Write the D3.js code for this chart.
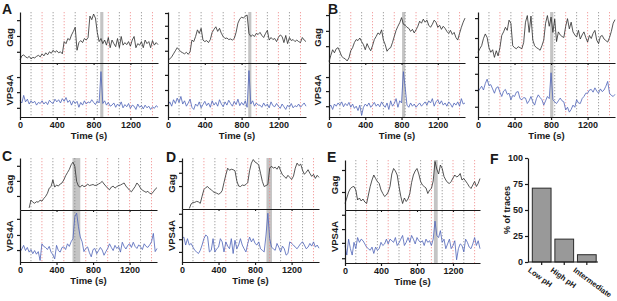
<!DOCTYPE html>
<html><head><meta charset="utf-8">
<script src="https://cdn.jsdelivr.net/npm/d3@7"></script>
<style>
body{margin:0;background:#fff}
svg text{font-family:"Liberation Sans",Arial,Helvetica,sans-serif;font-weight:bold;fill:#1a1a1a}
</style>
</head><body>
<svg id="chart" width="617" height="301"></svg>
<script>
// ---------- data ----------
const times = d3.range(0, 1501, 20);           // seconds, one sample every 20 s
const xTickValues = [0, 400, 800, 1200];
const switchTimes = [120, 240, 360, 480, 600, 720, 840, 960, 1080, 1200, 1320, 1440];

const gagA1 = [6,14,16,12,10,13,8,11,10,13, 15,12,18,14,20,16,22,19,25,21, 24,20,22,18,42,38,48,45,55,62, 70,25,40,44,40,48,45,50,92,85, 96,88,60,42,48,38,45,35,50,30, 45,38,32,48,30,52,35,40,36,42, 33,45,52,30,38,35,42,30,45,38, 42,30,44,35,40,36];
const vpsA1 = [30,26,40,28,33,24,30,26,29,22, 27,25,30,24,28,23,31,27,25,33, 28,32,26,34,29,36,27,31,22,30, 25,29,18,27,22,30,24,28,26,32, 27,23,30,26,84,25,30,22,27,20, 22,26,18,24,20,28,17,23,19,25, 16,22,20,14,24,18,21,15,22,17, 20,14,19,16,21,18];
const gagA2 = [5,8,12,18,24,30,26,22,20,18, 21,17,22,45,42,52,65,58,68,45, 42,44,40,46,60,66,71,62,68,58, 52,48,49,46,47,45,48,60,78,86, 90,88,92,94,58,52,55,52,58,56, 60,54,50,58,64,45,50,46,48,42, 50,55,52,40,54,38,50,44,46,42, 45,42,40,50,45,42];
const vpsA2 = [22,28,20,32,25,35,27,38,24,30, 20,26,33,18,14,24,20,28,17,23, 29,21,26,18,30,22,27,20,32,24, 19,28,22,31,25,20,29,23,33,21, 27,22,30,18,86,24,30,20,26,22, 22,18,26,20,24,17,28,21,19,25, 20,16,24,19,14,22,18,25,17,21, 19,24,18,22,26,20];
const gagB1 = [3,15,26,20,28,30,22,13,10,8, 4,10,24,30,40,46,44,49,42,36, 26,38,30,24,34,46,52,59,56,65, 45,36,23,28,30,40,52,64,72,79, 89,76,74,70,68,62,66,59,65,72, 82,78,86,80,84,74,70,76,84,80, 70,74,66,72,68,62,58,64,56,60, 50,45,58,70,80,88];
const vpsB1 = [18,22,14,24,20,26,22,28,19,25, 21,27,18,24,16,20,12,22,3,18, 24,20,26,18,22,27,20,24,19,28, 22,18,26,14,30,20,25,34,18,30, 26,84,55,22,18,26,20,24,18,22, 26,20,24,28,22,30,26,34,20,28, 32,24,30,22,26,20,28,24,18,26, 22,28,20,34,24,26];
const gagB2 = [21,28,34,48,57,50,30,21,26,11, 24,14,30,54,61,70,64,84,78,34, 30,28,32,30,28,40,80,93,60,92, 45,34,30,28,25,34,45,78,93,72, 90,60,86,42,61,55,52,50,72,87, 67,80,61,55,51,64,47,55,61,50, 41,54,48,58,64,45,38,52,54,47, 44,41,50,62,78,85];
const vpsB2 = [47,52,57,50,62,70,58,60,52,44, 54,56,46,38,48,51,42,44,32,40, 38,46,47,34,32,36,35,25,30,38, 28,22,34,41,36,32,22,30,38,34, 82,32,28,25,30,35,30,28,13,18, 9,14,22,18,32,26,25,34,38,44, 44,50,51,46,54,48,44,52,47,50, 57,66,44,40,38,42];
const gagC = [null,null,null,null,null,4,19,15,13,16, 15,19,17,22,26,32,42,45,58,44, 48,46,50,52,58,66,72,78,87,92, 84,55,46,44,48,45,46,50,47,48, 49,47,48,50,52,55,50,46,42,39, 44,46,42,45,47,48,50,52,46,42, 38,35,40,45,52,48,42,38,36,34, 36,32,31,35,40,43];
const vpsC = [19,25,32,22,28,19,24,16,22,15, 20,3,35,30,28,24,30,19,14,6, 32,22,19,28,29,24,35,30,39,45, 87,94,68,48,39,20,26,29,18,10, 24,26,16,22,28,23,13,20,26,35, 28,22,32,26,30,19,38,30,25,32, 35,28,38,30,26,33,29,24,35,30, 28,33,39,55,20,26];
const gagD = [null,null,null,null,1,10,13,13,15,14, 11,25,38,42,44,40,38,34,32,31, 29,31,36,52,67,80,76,78,77,75, 55,45,44,47,46,48,52,75,90,97, 92,90,86,70,54,44,46,48,80,84, 80,82,78,84,75,67,64,60,66,62, 58,64,80,90,85,88,76,68,72,77, 70,64,68,60,66,62];
const vpsD = [44,47,32,44,32,35,28,22,19,16, 22,32,44,51,48,19,22,44,19,25, 28,44,38,19,38,30,25,44,16,41, 25,32,44,32,25,19,35,47,38,44, 35,32,38,25,22,19,51,92,44,28, 25,22,35,28,19,30,25,13,16,38, 35,32,28,25,30,35,38,32,25,28, 35,30,38,28,32,26];
const gagE = [13,24,36,43,46,47,40,20,24,18, 22,16,13,30,47,60,70,63,57,53, 40,33,27,30,36,47,72,83,78,70, 47,27,13,24,17,22,33,55,70,78, 83,72,57,50,47,44,33,40,43,58, 97,82,72,90,83,67,60,55,53,57, 64,70,66,68,73,60,63,58,53,47, 43,50,57,47,53,63];
const vpsE = [33,15,45,27,15,39,27,48,39,45, 42,36,30,27,24,30,18,30,24,27, 39,33,36,45,36,45,42,39,48,33, 38,45,52,33,39,48,39,52,45,36, 48,42,39,42,33,45,39,42,33,45, 79,52,48,61,39,45,27,36,45,27, 33,42,6,27,36,33,21,45,39,30, 27,36,48,33,42,27];

// tick values (arbitrary intensity units, 0-100 of each strip)
const gagTicksA1 = [22,53,84],  vpsTicksA1 = [17,46,74];
const gagTicksA2 = [24,49,73,98], vpsTicksA2 = [22,50,78];
const gagTicksB1 = [33,63,94],  vpsTicksB1 = [20,48,74];
const gagTicksB2 = [12,49,88],  vpsTicksB2 = [19,50,80];
const gagTicksC  = [27,56,85],  vpsTicksC  = [23,52,83];
const gagTicksD  = [45,71,94],  vpsTicksD  = [19,43,66,91];
const gagTicksE  = [36,80],     vpsTicksE  = [9,38,64,91];

// panel F
const fCategories = ["Low pH", "High pH", "Intermediate"];
const fValues = [71, 22, 7];
const fTicks = [0, 25, 50, 75, 100];

// ---------- layout ----------
const panels = [
  {gag:gagA1, vps:vpsA1, gt:gagTicksA1, vt:vpsTicksA1, shade:[872,906], x0:20,  x1:158, top:12,  mid:63,  bot:117, lab:10},
  {gag:gagA2, vps:vpsA2, gt:gagTicksA2, vt:vpsTicksA2, shade:[872,906], x0:168, x1:306, top:12,  mid:63,  bot:117, lab:null},
  {gag:gagB1, vps:vpsB1, gt:gagTicksB1, vt:vpsTicksB1, shade:[806,840], x0:329, x1:465, top:12,  mid:63,  bot:117, lab:318},
  {gag:gagB2, vps:vpsB2, gt:gagTicksB2, vt:vpsTicksB2, shade:[790,825], x0:478, x1:615, top:12,  mid:63,  bot:117, lab:null},
  {gag:gagC,  vps:vpsC,  gt:gagTicksC,  vt:vpsTicksC,  shade:[575,660], x0:20,  x1:157, top:158, mid:210, bot:262, lab:10},
  {gag:gagD,  vps:vpsD,  gt:gagTicksD,  vt:vpsTicksD,  shade:[925,985], x0:182, x1:319, top:158, mid:209, bot:262, lab:172},
  {gag:gagE,  vps:vpsE,  gt:gagTicksE,  vt:vpsTicksE,  shade:[988,1030],x0:345, x1:480, top:160, mid:210, bot:263, lab:335}
];
const letters = [["A",2,14],["B",328,14],["C",2,161],["D",166,162],["E",327,162],["F",490,164]];

const svg = d3.select("#chart");
const AX = "#1a1a1a";

panels.forEach(p => {
  const g = svg.append("g");
  const x = d3.scaleLinear().domain([0,1500]).range([p.x0, p.x1]);
  const yG = d3.scaleLinear().domain([0,100]).range([p.mid, p.top]);
  const yV = d3.scaleLinear().domain([0,100]).range([p.bot, p.mid]);

  // shaded event
  g.append("rect").attr("x", x(p.shade[0])).attr("width", x(p.shade[1]) - x(p.shade[0]))
    .attr("y", p.top).attr("height", p.bot - p.top).attr("fill", "#c4c4c4");

  // pH switch lines
  g.selectAll("line.sw").data(switchTimes).join("line")
    .attr("x1", d => x(d)).attr("x2", d => x(d))
    .attr("y1", p.top).attr("y2", p.bot)
    .attr("stroke", (d,i) => i % 2 === 0 ? "#8a8a8a" : "#f08a8a")
    .attr("stroke-width", 0.8).attr("stroke-dasharray", "1.3,1.7");

  // traces
  const lineG = d3.line().defined(d => d != null).x((d,i) => x(times[i])).y(d => yG(d));
  const lineV = d3.line().defined(d => d != null).x((d,i) => x(times[i])).y(d => yV(d));
  g.append("path").datum(p.gag).attr("d", lineG).attr("fill","none").attr("stroke","#2b2b2b").attr("stroke-width",0.8).attr("stroke-linejoin","round");
  g.append("path").datum(p.vps).attr("d", lineV).attr("fill","none").attr("stroke","#4d62b8").attr("stroke-width",0.8).attr("stroke-linejoin","round");

  // y axes
  const ag = g.append("g").attr("transform",`translate(${p.x0},0)`)
    .call(d3.axisLeft(yG).tickValues(p.gt).tickSize(3).tickFormat("").tickSizeOuter(0));
  const av = g.append("g").attr("transform",`translate(${p.x0},0)`)
    .call(d3.axisLeft(yV).tickValues(p.vt).tickSize(3).tickFormat("").tickSizeOuter(0));
  [ag, av].forEach(a => { a.selectAll("path,line").attr("stroke", AX).attr("stroke-width", 1.2); });

  // middle separator with small ticks
  const am = g.append("g").attr("transform",`translate(0,${p.mid})`)
    .call(d3.axisBottom(x).tickValues(xTickValues.slice(1)).tickSize(2).tickFormat("").tickSizeOuter(0));
  am.selectAll("path,line").attr("stroke", AX).attr("stroke-width", 1.1);

  // bottom axis
  const ab = g.append("g").attr("transform",`translate(0,${p.bot})`)
    .call(d3.axisBottom(x).tickValues(xTickValues).tickFormat(d3.format("d")).tickSize(3).tickPadding(2).tickSizeOuter(0));
  ab.selectAll("path,line").attr("stroke", AX).attr("stroke-width", 1.2);
  ab.selectAll("text").attr("font-size", 9).attr("fill", AX);

  g.append("text").attr("x", (p.x0 + p.x1) / 2).attr("y", p.bot + 22)
    .attr("text-anchor","middle").attr("font-size", 9.5).text("Time (s)");

  if (p.lab != null) {
    g.append("text").attr("transform",`translate(${p.lab + 3},${(p.top + p.mid) / 2}) rotate(-90)`)
      .attr("text-anchor","middle").attr("font-size", 9.5).text("Gag");
    g.append("text").attr("transform",`translate(${p.lab + 3},${(p.mid + p.bot) / 2}) rotate(-90)`)
      .attr("text-anchor","middle").attr("font-size", 9.5).text("VPS4A");
  }
});

// panel letters
svg.selectAll("text.letter").data(letters).join("text")
  .attr("x", d => d[1]).attr("y", d => d[2]).attr("font-size", 14).text(d => d[0]);

// ---------- panel F ----------
const fx = d3.scaleBand().domain(fCategories).range([530.5, 598]).paddingInner(0.17).paddingOuter(0.08);
const fy = d3.scaleLinear().domain([0,100]).range([262, 158]);
const fg = svg.append("g");
fg.selectAll("rect").data(fValues).join("rect")
  .attr("x", (d,i) => fx(fCategories[i])).attr("width", fx.bandwidth())
  .attr("y", d => fy(d)).attr("height", d => fy(0) - fy(d))
  .attr("fill", "#999999").attr("stroke", "#2a2a2a").attr("stroke-width", 1);
const fyAxis = fg.append("g").attr("transform","translate(528,0)")
  .call(d3.axisLeft(fy).tickValues(fTicks).tickSize(3).tickPadding(2).tickSizeOuter(0));
fyAxis.selectAll("path,line").attr("stroke", AX).attr("stroke-width", 1.2);
fyAxis.selectAll("text").attr("font-size", 9).attr("fill", AX);
const fxAxis = fg.append("g").attr("transform","translate(0,262)")
  .call(d3.axisBottom(fx).tickSize(3).tickFormat("").tickSizeOuter(0));
fxAxis.select("path").attr("d", "M528,0H598");
fxAxis.selectAll("path,line").attr("stroke", AX).attr("stroke-width", 1.2);
fg.selectAll("text.cat").data(fCategories).join("text")
  .attr("transform", d => `translate(${fx(d) + fx.bandwidth()/2 - 11},${267}) rotate(36)`)
  .attr("font-size", 7.6).attr("dy", "0.7em").text(d => d);
fg.append("text").attr("transform","translate(510,210) rotate(-90)")
  .attr("text-anchor","middle").attr("font-size", 9).text("% of traces");
</script>
</body></html>
